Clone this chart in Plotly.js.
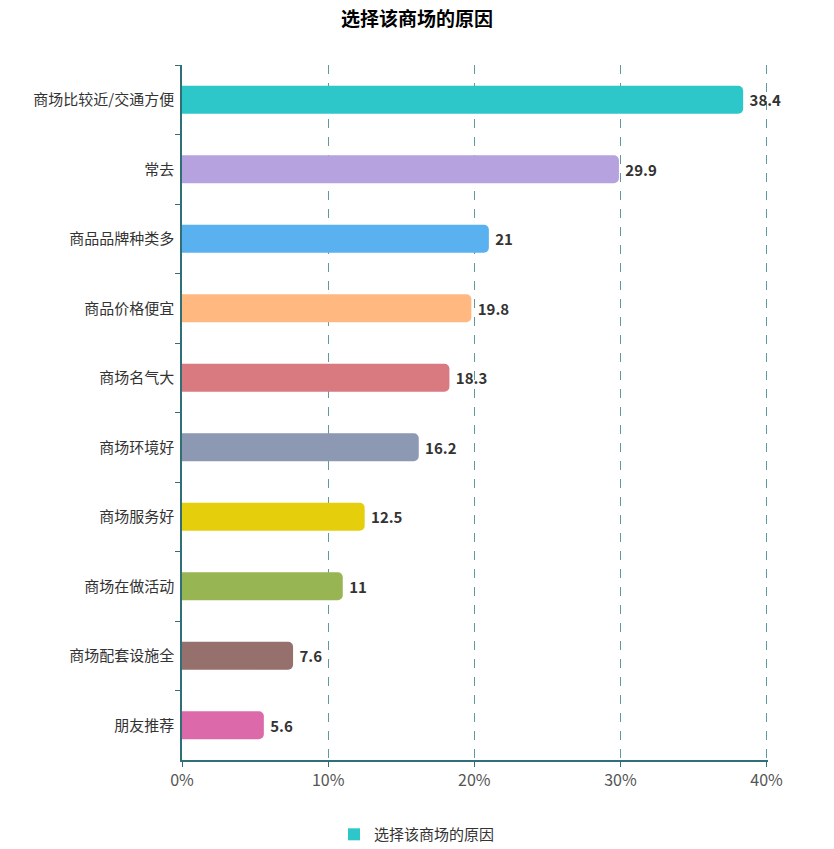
<!DOCTYPE html>
<html>
<head>
<meta charset="utf-8">
<script src="https://cdn.plot.ly/plotly-3.0.1.min.js"></script>
<style>body{margin:0;background:#fff;} #chart{width:834px;height:849px;}</style>
</head>
<body>
<div id="chart"></div>
<script>
const categories = ["商场比较近/交通方便","常去","商品品牌种类多","商品价格便宜","商场名气大","商场环境好","商场服务好","商场在做活动","商场配套设施全","朋友推荐"];
const values = [38.4, 29.9, 21, 19.8, 18.3, 16.2, 12.5, 11, 7.6, 5.6];
const barColors = ["#2EC7C9","#B6A2DE","#5AB1EF","#FFB980","#D87A80","#8D98B3","#E5CF0D","#97B552","#95706D","#DC69AA"];
const xTickVals = [0, 10, 20, 30, 40];
const xTickText = ["0%", "10%", "20%", "30%", "40%"];
const seriesName = "选择该商场的原因";
const FONT = '"Microsoft YaHei","Noto Sans CJK SC",sans-serif';

const trace = {
  type: "bar",
  orientation: "h",
  y: categories,
  x: values,
  name: seriesName,
  marker: {color: barColors, cornerradius: 5},
  width: 0.4,
  text: values.map(String),
  texttemplate: "\u00a0<b>%{text}</b>",
  textposition: "outside",
  textfont: {family: FONT, size: 15, color: "#333"},
  cliponaxis: false,
  showlegend: false,
  hoverinfo: "x+y"
};
const legendTrace = {
  type: "bar",
  orientation: "h",
  y: [null], x: [null],
  name: seriesName,
  marker: {color: barColors[0]},
  showlegend: true
};

const layout = {
  width: 834, height: 849,
  margin: {l: 182, r: 66, t: 65, b: 89, autoexpand: false},
  paper_bgcolor: "#fff", plot_bgcolor: "#fff",
  title: {text: "<b>选择该商场的原因</b>", x: 0.5, xanchor: "center", xref: "container", y: 0.985, yanchor: "top",
          font: {family: FONT, size: 19, color: "#000"}},
  font: {family: FONT},
  xaxis: {
    range: [0, 40.1], tickvals: xTickVals, ticktext: xTickText,
    showgrid: true, gridcolor: "#5E9A9C", griddash: "dash", gridwidth: 1,
    zeroline: false, showline: true, linecolor: "#2F6F75", linewidth: 1.5,
    ticks: "outside", ticklen: 5, tickcolor: "#2F6F75",
    tickfont: {family: FONT, size: 16, color: "#555"}
  },
  yaxis: {
    type: "category", autorange: "reversed",
    tickson: "boundaries", ticks: "outside", ticklen: 5, tickcolor: "#2F6F75",
    showline: true, linecolor: "#2F6F75", linewidth: 1.5,
    showgrid: false, zeroline: false,
    tickfont: {family: FONT, size: 15, color: "#333"},
    ticklabelstandoff: 3
  },
  showlegend: true,
  legend: {orientation: "h", x: 0.5, xanchor: "center", xref: "container",
           y: 0.017, yanchor: "middle", yref: "container",
           font: {family: FONT, size: 15, color: "#333"}},
  bargap: 0.6
};

Plotly.newPlot("chart", [trace, legendTrace], layout, {displayModeBar: false});
</script>
</body>
</html>
